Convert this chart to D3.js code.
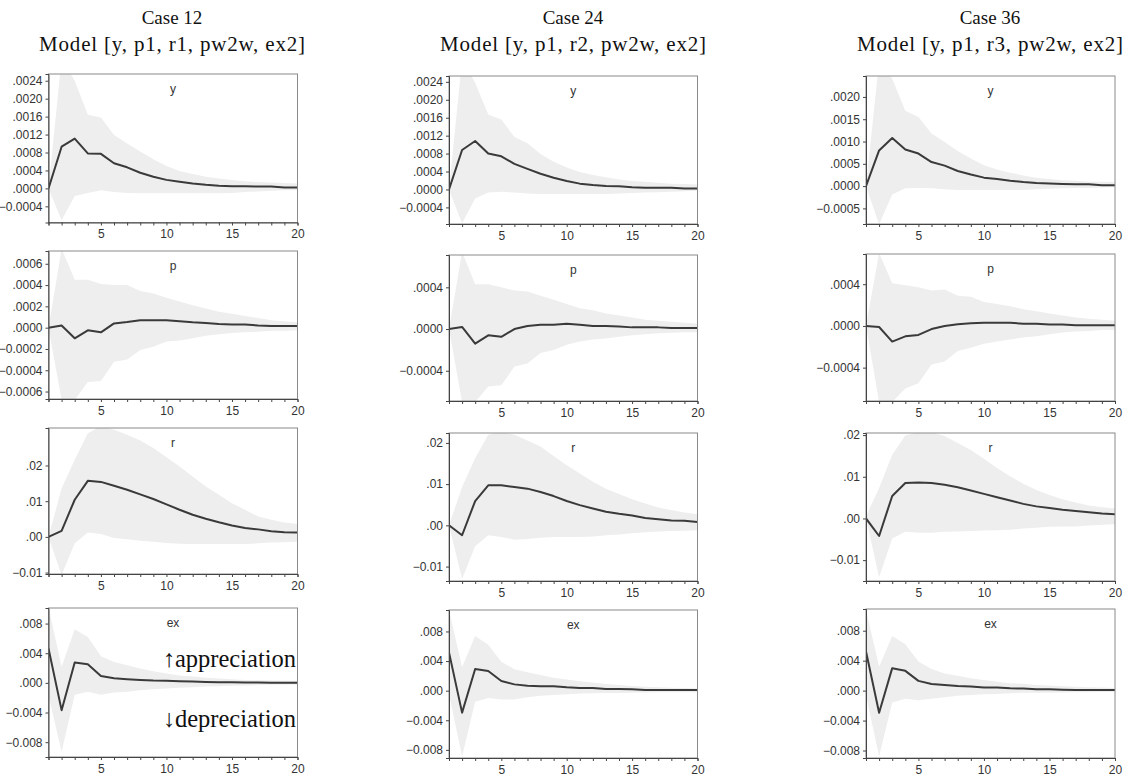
<!DOCTYPE html>
<html>
<head>
<meta charset="utf-8">
<script src="https://cdn.jsdelivr.net/npm/d3@7"></script>
<style>
  body { margin: 0; background: #fff; }
  svg { display: block; }
</style>
</head>
<body>
<svg id="chart" width="1129" height="777"></svg>
<script>
// periods
const periods = d3.range(1, 21);

const caseTitles = ["Case 12", "Case 24", "Case 36"];
const modelTitles = ["Model [y, p1, r1, pw2w, ex2]", "Model [y, p1, r2, pw2w, ex2]", "Model [y, p1, r3, pw2w, ex2]"];
const varNames = ["y", "p", "r", "ex"];

// ---- Case 12 ----
const c12_y_mid = [0, 0.00093, 0.00111, 0.00078, 0.00077, 0.00056, 0.00047, 0.00035, 0.00026, 0.00019, 0.00015, 0.00011, 0.00008, 0.00006, 0.00005, 0.00005, 0.00004, 0.00004, 0.00002, 0.00002];
const c12_y_hi  = [0, 0.0029, 0.0024, 0.00164, 0.00158, 0.00119, 0.0010, 0.00082, 0.00065, 0.0005, 0.00039, 0.00032, 0.00026, 0.00022, 0.00019, 0.00016, 0.00014, 0.00013, 0.00012, 0.00011];
const c12_y_lo  = [0, -0.00071, -0.00017, -0.0001, -0.00004, -0.00008, -0.0001, -0.00011, -0.00011, -0.00011, -0.00011, -0.00011, -0.00011, -0.00011, -0.0001, -0.00008, -0.00007, -0.00005, -0.00004, -0.00004];

const c12_p_mid = [0, 0.00002, -0.0001, -0.000025, -0.000044, 0.00004, 0.000053, 0.00007, 0.00007, 0.00007, 0.00006, 0.00005, 0.000044, 0.000035, 0.00003, 0.00003, 0.00002, 0.000016, 0.000016, 0.000016];
const c12_p_hi  = [0, 0.00074, 0.00045, 0.00045, 0.00041, 0.0004, 0.0004, 0.000345, 0.00032, 0.00028, 0.000245, 0.00021, 0.00018, 0.00015, 0.00013, 0.00011, 0.00009, 0.00007, 0.00006, 0.00005];
const c12_p_lo  = [0, -0.00068, -0.00068, -0.00051, -0.0005, -0.00032, -0.0003, -0.00021, -0.00018, -0.00013, -0.00012, -0.0001, -0.000075, -0.000063, -0.00005, -0.000044, -0.000038, -0.00003, -0.000028, -0.000025];

const c12_r_mid = [0, 0.0017, 0.0104, 0.0157, 0.0154, 0.0143, 0.0132, 0.0119, 0.0106, 0.0091, 0.0076, 0.0062, 0.0051, 0.0041, 0.0032, 0.0025, 0.0021, 0.0016, 0.0013, 0.0012];
const c12_r_hi  = [0, 0.0136, 0.0216, 0.029, 0.031, 0.030, 0.0286, 0.027, 0.0249, 0.0223, 0.0197, 0.0169, 0.0141, 0.0118, 0.0094, 0.0076, 0.0057, 0.0048, 0.004, 0.0036];
const c12_r_lo  = [0, -0.0107, -0.0018, 0.0012, 0.0008, -0.0003, -0.0007, -0.0011, -0.0014, -0.0017, -0.0019, -0.002, -0.002, -0.002, -0.002, -0.002, -0.0018, -0.0016, -0.0015, -0.0014];

const c12_ex_mid = [0.00463, -0.00368, 0.00274, 0.00252, 0.00094, 0.00063, 0.0005, 0.0004, 0.00031, 0.00027, 0.00022, 0.00018, 0.00013, 0.00009, 0.00008, 0.00005, 0.00004, 0.00001, 0.00001, 0.0];
const c12_ex_hi  = [0.0102, 0.00216, 0.00724, 0.0062, 0.0036, 0.00283, 0.00238, 0.00193, 0.00157, 0.00126, 0.001, 0.00085, 0.0007, 0.00058, 0.0005, 0.0004, 0.00036, 0.00032, 0.00027, 0.00027];
const c12_ex_lo  = [-0.0017, -0.0093, -0.0016, -0.0012, -0.0016, -0.0013, -0.0012, -0.001, -0.00085, -0.00076, -0.00067, -0.00058, -0.0005, -0.00045, -0.0004, -0.00036, -0.0003, -0.00027, -0.00027, -0.00022];

// ---- Case 24 ----
const c24_y_mid = [0, 0.00088, 0.00108, 0.0008, 0.00074, 0.00057, 0.00046, 0.00035, 0.00026, 0.00019, 0.00013, 0.0001, 0.00008, 0.00007, 0.00005, 0.00004, 0.00004, 0.00004, 0.00002, 0.00002];
const c24_y_hi  = [0, 0.0029, 0.00238, 0.00167, 0.00156, 0.00117, 0.00103, 0.00079, 0.00062, 0.00049, 0.00039, 0.00032, 0.00027, 0.00022, 0.00019, 0.00017, 0.00015, 0.00013, 0.00012, 0.00011];
const c24_y_lo  = [0, -0.00076, -0.0002, -0.00007, -0.00005, -0.00007, -0.00009, -0.0001, -0.0001, -0.0001, -0.0001, -0.0001, -0.0001, -0.00009, -0.00008, -0.00007, -0.00006, -0.00005, -0.00004, -0.00003];

const c24_p_mid = [0, 0.00002, -0.00014, -0.00006, -0.000075, 0, 0.00003, 0.00004, 0.00004, 0.00005, 0.00004, 0.00003, 0.00003, 0.000025, 0.000016, 0.000016, 0.000016, 0.00001, 0.00001, 0.00001];
const c24_p_hi  = [0, 0.00074, 0.00043, 0.00043, 0.0004, 0.00037, 0.00036, 0.00032, 0.00028, 0.00024, 0.0002, 0.00018, 0.00015, 0.00013, 0.00011, 0.00009, 0.00008, 0.00007, 0.00006, 0.00005];
const c24_p_lo  = [0, -0.0007, -0.0007, -0.00055, -0.00054, -0.00036, -0.00033, -0.00023, -0.0002, -0.00015, -0.00012, -0.0001, -0.00009, -0.000075, -0.00006, -0.00005, -0.00004, -0.000035, -0.00003, -0.00003];

const c24_r_mid = [0, -0.0024, 0.0059, 0.0097, 0.0097, 0.0093, 0.0089, 0.0081, 0.0071, 0.0059, 0.0049, 0.0041, 0.0033, 0.0028, 0.0024, 0.0018, 0.0015, 0.0012, 0.0011, 0.0008];
const c24_r_hi  = [0, 0.0093, 0.0163, 0.022, 0.0226, 0.022, 0.0206, 0.0191, 0.0168, 0.0146, 0.0126, 0.0106, 0.0089, 0.0076, 0.0063, 0.0053, 0.0043, 0.0037, 0.0031, 0.0027];
const c24_r_lo  = [0, -0.013, -0.0051, -0.0024, -0.0028, -0.0035, -0.0033, -0.003, -0.0028, -0.0028, -0.0028, -0.0027, -0.0024, -0.0022, -0.0019, -0.0017, -0.0015, -0.0014, -0.0013, -0.0012];

const c24_ex_mid = [0.00517, -0.00297, 0.00292, 0.00265, 0.0013, 0.00085, 0.00067, 0.00058, 0.00058, 0.00045, 0.00036, 0.00036, 0.00022, 0.00022, 0.00018, 0.00009, 0.00009, 0.00009, 0.00009, 0.00009];
const c24_ex_hi  = [0.0109, 0.0032, 0.0074, 0.0062, 0.0039, 0.0029, 0.0025, 0.0021, 0.00175, 0.0015, 0.00126, 0.0011, 0.0009, 0.00076, 0.00063, 0.00054, 0.00045, 0.0004, 0.00036, 0.0003];
const c24_ex_lo  = [-0.0005, -0.0089, -0.0015, -0.001, -0.0012, -0.0012, -0.0009, -0.0007, -0.0006, -0.0005, -0.0004, -0.00036, -0.0003, -0.0003, -0.00027, -0.00025, -0.00023, -0.00022, -0.0002, -0.0002];

// ---- Case 36 ----
const c36_y_mid = [0, 0.0008, 0.00108, 0.00082, 0.00073, 0.00054, 0.00046, 0.00034, 0.00026, 0.00019, 0.00016, 0.00012, 0.00009, 0.00007, 0.00006, 0.00005, 0.00004, 0.00004, 0.00002, 0.00002];
const c36_y_hi  = [0, 0.0028, 0.00241, 0.00169, 0.00155, 0.00118, 0.00099, 0.00079, 0.00062, 0.00047, 0.00037, 0.0003, 0.00024, 0.00019, 0.00016, 0.00013, 0.00012, 0.0001, 0.0001, 0.00009];
const c36_y_lo  = [0, -0.00086, -0.00019, -0.00005, -0.00004, -0.00005, -0.00007, -0.00009, -0.00009, -0.00009, -0.00009, -0.00009, -0.00009, -0.00007, -0.00006, -0.00005, -0.00004, -0.00004, -0.00003, -0.00002];

const c36_p_mid = [0, -0.00001, -0.00015, -0.0001, -0.000086, -0.00003, 0, 0.000016, 0.000026, 0.00003, 0.00003, 0.00003, 0.000022, 0.000022, 0.000013, 0.000013, 0.000006, 0.000006, 0.000006, 0.000006];
const c36_p_hi  = [0, 0.0007, 0.00041, 0.00039, 0.00037, 0.00034, 0.00035, 0.00029, 0.00028, 0.00023, 0.00021, 0.00019, 0.00016, 0.00014, 0.00012, 0.0001, 0.00008, 0.00007, 0.00006, 0.00005];
const c36_p_lo  = [0, -0.00073, -0.00073, -0.0006, -0.00055, -0.00037, -0.00034, -0.00024, -0.00021, -0.00017, -0.00015, -0.00013, -0.00011, -0.0001, -0.00008, -0.000064, -0.000054, -0.000048, -0.00004, -0.000038];

const c36_r_mid = [0, -0.0042, 0.0054, 0.0085, 0.0086, 0.0085, 0.0081, 0.0075, 0.0067, 0.0059, 0.0051, 0.0043, 0.0035, 0.0029, 0.0025, 0.0021, 0.0018, 0.0015, 0.0012, 0.001];
const c36_r_hi  = [0.0005, 0.0073, 0.0153, 0.0199, 0.0207, 0.0207, 0.0198, 0.0181, 0.0164, 0.0143, 0.0121, 0.0101, 0.0083, 0.0068, 0.0056, 0.0046, 0.0038, 0.0031, 0.0027, 0.0024];
const c36_r_lo  = [0, -0.0141, -0.0048, -0.0032, -0.0034, -0.0034, -0.0032, -0.0031, -0.003, -0.0029, -0.0028, -0.0027, -0.0024, -0.0022, -0.002, -0.0019, -0.0019, -0.0017, -0.0015, -0.0014];

const c36_ex_mid = [0.00523, -0.00295, 0.003, 0.00264, 0.0013, 0.00089, 0.00076, 0.00063, 0.00054, 0.0004, 0.0004, 0.00031, 0.00027, 0.00018, 0.00018, 0.00013, 0.00009, 0.00009, 0.00009, 0.00009];
const c36_ex_hi  = [0.0108, 0.0032, 0.0073, 0.0062, 0.0039, 0.0029, 0.0023, 0.002, 0.00165, 0.00143, 0.0012, 0.001, 0.0009, 0.00076, 0.00067, 0.00058, 0.0005, 0.00045, 0.0004, 0.00036];
const c36_ex_lo  = [-0.0006, -0.0088, -0.0016, -0.0011, -0.0013, -0.0011, -0.0009, -0.0007, -0.0006, -0.0005, -0.00045, -0.00036, -0.0003, -0.0003, -0.00027, -0.00025, -0.00023, -0.00022, -0.0002, -0.0002];

// y domains and tick values per column/row
const yDomains = [
  [[-0.00076, 0.00255], [-0.00067, 0.00072], [-0.0104, 0.0305], [-0.0100, 0.0101]],
  [[-0.00077, 0.00253], [-0.00069, 0.00071], [-0.0135, 0.0224], [-0.0091, 0.0109]],
  [[-0.00085, 0.00247], [-0.00072, 0.00069], [-0.0150, 0.0205], [-0.0090, 0.0109]]
];
const yTicks = [
  [[-0.0004, 0, 0.0004, 0.0008, 0.0012, 0.0016, 0.0020, 0.0024], [-0.0006, -0.0004, -0.0002, 0, 0.0002, 0.0004, 0.0006], [-0.01, 0, 0.01, 0.02], [-0.008, -0.004, 0, 0.004, 0.008]],
  [[-0.0004, 0, 0.0004, 0.0008, 0.0012, 0.0016, 0.0020, 0.0024], [-0.0004, 0, 0.0004], [-0.01, 0, 0.01, 0.02], [-0.008, -0.004, 0, 0.004, 0.008]],
  [[-0.0005, 0, 0.0005, 0.0010, 0.0015, 0.0020], [-0.0004, 0, 0.0004], [-0.01, 0, 0.01, 0.02], [-0.008, -0.004, 0, 0.004, 0.008]]
];
const yDecimals = [4, 4, 2, 3];
const xLabelTicks = [5, 10, 15, 20];

const series = [
  [[c12_y_mid, c12_y_lo, c12_y_hi], [c12_p_mid, c12_p_lo, c12_p_hi], [c12_r_mid, c12_r_lo, c12_r_hi], [c12_ex_mid, c12_ex_lo, c12_ex_hi]],
  [[c24_y_mid, c24_y_lo, c24_y_hi], [c24_p_mid, c24_p_lo, c24_p_hi], [c24_r_mid, c24_r_lo, c24_r_hi], [c24_ex_mid, c24_ex_lo, c24_ex_hi]],
  [[c36_y_mid, c36_y_lo, c36_y_hi], [c36_p_mid, c36_p_lo, c36_p_hi], [c36_r_mid, c36_r_lo, c36_r_hi], [c36_ex_mid, c36_ex_lo, c36_ex_hi]]
];

// layout (pixel boxes of each plot area)
const colX = [[48.5, 297.5], [449, 697.5], [866, 1115]];
const rowY = [
  [[74, 222.5], [251, 399], [428, 574], [608, 757]],
  [[76, 224], [255, 401], [433, 581], [610, 758]],
  [[76, 224], [254, 401], [433, 581], [609, 758]]
];
const colCenter = [172, 573, 990];

const svg = d3.select("#chart");

function fmtTick(v, dec) {
  let s = d3.format("." + dec + "f")(v);
  return s.replace("-0.", "-.").replace(/^0\./, ".");
}

caseTitles.forEach((t, c) => {
  svg.append("text").attr("x", colCenter[c]).attr("y", 24)
    .attr("text-anchor", "middle")
    .style("font-family", "'Liberation Serif', 'Times New Roman', serif")
    .style("font-size", "19px").style("fill", "#111").text(t);
  svg.append("text").attr("x", colCenter[c]).attr("y", 51)
    .attr("text-anchor", "middle")
    .attr("textLength", 266).attr("lengthAdjust", "spacing")
    .style("font-family", "'Liberation Serif', 'Times New Roman', serif")
    .style("font-size", "21px").style("fill", "#111").text(modelTitles[c]);
});

series.forEach((col, c) => {
  col.forEach((trip, r) => {
    const [x0, x1] = colX[c];
    const [y0, y1] = rowY[c][r];
    const x = d3.scaleLinear().domain([1, 20]).range([x0, x1]);
    const y = d3.scaleLinear().domain(yDomains[c][r]).range([y1, y0]);
    const [mid, lo, hi] = trip;
    const g = svg.append("g");
    const clipId = "clip-" + c + "-" + r;
    svg.append("clipPath").attr("id", clipId).append("rect")
      .attr("x", x0).attr("y", y0).attr("width", x1 - x0).attr("height", y1 - y0);

    const area = d3.area().x((d, i) => x(periods[i])).y0((d, i) => y(lo[i])).y1((d, i) => y(hi[i]));
    g.append("path").datum(mid).attr("d", area).attr("clip-path", "url(#" + clipId + ")")
      .style("fill", "#eeeeee").style("stroke", "none");

    const line = d3.line().x((d, i) => x(periods[i])).y(d => y(d));
    g.append("path").datum(mid).attr("d", line).attr("clip-path", "url(#" + clipId + ")")
      .style("fill", "none").style("stroke", "#3a3a3a").style("stroke-width", 2)
      .style("stroke-linejoin", "round");

    // frame
    g.append("rect").attr("x", x0).attr("y", y0).attr("width", x1 - x0).attr("height", y1 - y0)
      .style("fill", "none").style("stroke", "#8a8a8a").style("stroke-width", 1);

    // y axis
    const yAxis = d3.axisLeft(y).tickValues(yTicks[c][r]).tickSize(3).tickPadding(3)
      .tickFormat(v => fmtTick(v, yDecimals[r]));
    const ya = g.append("g").attr("transform", "translate(" + x0 + ",0)").call(yAxis);
    // x axis: small ticks at every period
    const xAxis = d3.axisBottom(x).tickValues(periods).tickSize(3).tickPadding(4)
      .tickFormat(v => xLabelTicks.includes(v) ? v : "");
    const xa = g.append("g").attr("transform", "translate(0," + y1 + ")").call(xAxis);
    [ya, xa].forEach(a => {
      a.select(".domain").style("stroke", "#444");
      a.selectAll(".tick line").style("stroke", "#444");
      a.selectAll("text").style("font-family", "'Liberation Sans', Arial, sans-serif")
        .style("font-size", "12px").style("fill", "#333");
    });

    // variable label
    g.append("text").attr("x", (x0 + x1) / 2).attr("y", y0 + 19)
      .attr("text-anchor", "middle")
      .style("font-family", "'Liberation Sans', Arial, sans-serif")
      .style("font-size", "12px").style("fill", "#333").text(varNames[r]);
  });
});

// annotations on Case 12 exchange-rate panel
const notes = [["\u2191appreciation", 667], ["\u2193depreciation", 727]];
notes.forEach(([t, yy]) => {
  svg.append("text").attr("x", 296).attr("y", yy).attr("text-anchor", "end")
    .style("font-family", "'Liberation Serif', 'Times New Roman', serif")
    .style("font-size", "24.5px").style("fill", "#111").text(t);
});
</script>
</body>
</html>
